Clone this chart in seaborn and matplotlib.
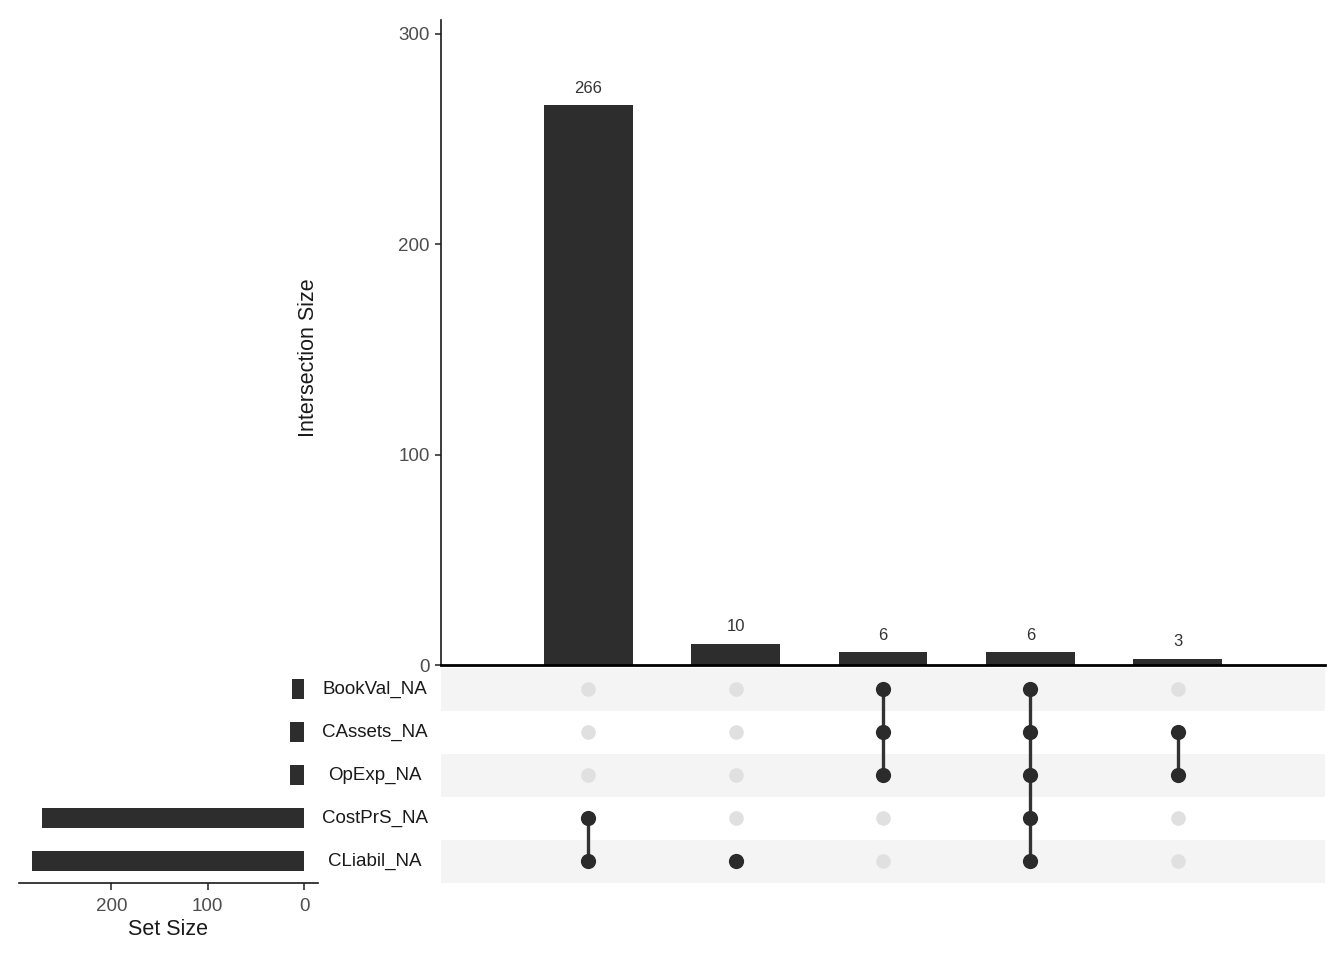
import numpy as np
import pandas as pd
import matplotlib
matplotlib.use("Agg")
import matplotlib.pyplot as plt
import matplotlib.transforms as mtransforms
import seaborn as sns

sns.set_theme(style="white")
plt.rcParams['font.family'] = ['Liberation Sans', 'DejaVu Sans']

# ---- data ----
sets = ["BookVal_NA", "CAssets_NA", "OpExp_NA", "CostPrS_NA", "CLiabil_NA"]
set_sizes = [12, 15, 15, 272, 282]
intersection_sizes = [266, 10, 6, 6, 3]
memberships = [
    ["CostPrS_NA", "CLiabil_NA"],
    ["CLiabil_NA"],
    ["BookVal_NA", "CAssets_NA", "OpExp_NA"],
    ["BookVal_NA", "CAssets_NA", "OpExp_NA", "CostPrS_NA", "CLiabil_NA"],
    ["CAssets_NA", "OpExp_NA"],
]
y_ticks_main = [0, 100, 200, 300]
x_ticks_sets = [200, 100, 0]

bar_color = "#2D2D2D"
dot_on = "#2B2B2B"
dot_off = "#E0E0E0"
stripe = "#F4F4F4"
tick_col = "#4D4D4D"

W, H = 1344, 960
fig = plt.figure(figsize=(W / 100, H / 100), dpi=100)

def frac(x0, y0, x1, y1):
    return [x0 / W, 1 - y1 / H, (x1 - x0) / W, (y1 - y0) / H]

ax_main = fig.add_axes(frac(441, 20, 1325, 665))
ax_mat = fig.add_axes(frac(441, 667.5, 1325, 882.5))
ax_set = fig.add_axes(frac(19, 667.5, 318, 882.5))

n_int = len(intersection_sizes)
int_labels = [f"I{i}" for i in range(n_int)]

# ---- main intersection bars ----
df_int = pd.DataFrame({"inter": int_labels, "size": intersection_sizes})
sns.barplot(data=df_int, x="inter", y="size", order=int_labels, color=bar_color,
            saturation=1, width=0.6, ax=ax_main, linewidth=0)
for c in ax_main.containers:
    ax_main.bar_label(c, labels=[str(v) for v in intersection_sizes], padding=7,
                      fontsize=12, color="#333333")
ax_main.set_xlim(-1, n_int)
ax_main.set_ylim(0, 306.6)
ax_main.set_yticks(y_ticks_main)
ax_main.set_yticklabels([str(v) for v in y_ticks_main], fontsize=13.5, color=tick_col)
ax_main.set_xticks([])
ax_main.set_xlabel("")
ax_main.set_ylabel("")
ax_main.tick_params(axis="y", left=True, length=4, width=1.2, color="#333333", pad=4)
for s in ["top", "right"]:
    ax_main.spines[s].set_visible(False)
ax_main.spines["left"].set_color("#1A1A1A")
ax_main.spines["left"].set_linewidth(1.2)
ax_main.spines["bottom"].set_color("#000000")
ax_main.spines["bottom"].set_linewidth(2)
ax_main.text((308 - 441) / 884, 0.477, "Intersection Size", rotation=90,
             ha="center", va="center", fontsize=15.5, color="#1A1A1A",
             transform=ax_main.transAxes)

# ---- matrix ----
rows = []
for i, mem in enumerate(memberships):
    for j, s in enumerate(sets):
        rows.append({"x": i, "y": j, "on": s in mem})
df_m = pd.DataFrame(rows)
for j in range(len(sets)):
    if j % 2 == 0:
        ax_mat.axhspan(j - 0.5, j + 0.5, color=stripe, zorder=0, lw=0)
sns.scatterplot(data=df_m[~df_m["on"]], x="x", y="y", color=dot_off, s=110,
                linewidth=0, ax=ax_mat, zorder=2)
for i, mem in enumerate(memberships):
    ys = [sets.index(s) for s in mem]
    if len(ys) > 1:
        ax_mat.plot([i, i], [min(ys), max(ys)], color="#333333", lw=2.4, zorder=3)
sns.scatterplot(data=df_m[df_m["on"]], x="x", y="y", color=dot_on, s=120,
                linewidth=0, ax=ax_mat, zorder=4)
ax_mat.set_xlim(-1, n_int)
ax_mat.set_ylim(len(sets) - 0.5, -0.5)
ax_mat.set_xticks([])
ax_mat.set_yticks([])
ax_mat.set_xlabel("")
ax_mat.set_ylabel("")
for s in ax_mat.spines.values():
    s.set_visible(False)
trans = mtransforms.blended_transform_factory(ax_mat.transAxes, ax_mat.transData)
for j, s in enumerate(sets):
    ax_mat.text((375 - 441) / 884, j, s, ha="center", va="center", fontsize=13.5,
                color="#1A1A1A", transform=trans)

# ---- set sizes ----
df_s = pd.DataFrame({"set": sets, "size": set_sizes})
sns.barplot(data=df_s, y="set", x="size", order=sets, orient="h", color=bar_color,
            saturation=1, width=0.46, ax=ax_set, linewidth=0)
ax_set.set_xlim(296, -14.5)
ax_set.set_ylim(len(sets) - 0.5, -0.5)
ax_set.set_xticks(x_ticks_sets)
ax_set.set_xticklabels([str(v) for v in x_ticks_sets], fontsize=13.5, color=tick_col)
ax_set.set_yticks([])
ax_set.set_ylabel("")
ax_set.set_xlabel("Set Size", fontsize=15.5, color="#1A1A1A", labelpad=3)
ax_set.tick_params(axis="x", bottom=True, length=5, width=1.2, color="#333333", pad=6)
for s in ["top", "right", "left"]:
    ax_set.spines[s].set_visible(False)
ax_set.spines["bottom"].set_color("#1A1A1A")
ax_set.spines["bottom"].set_linewidth(1.2)

fig.savefig("out.png", dpi=100, facecolor="white")
